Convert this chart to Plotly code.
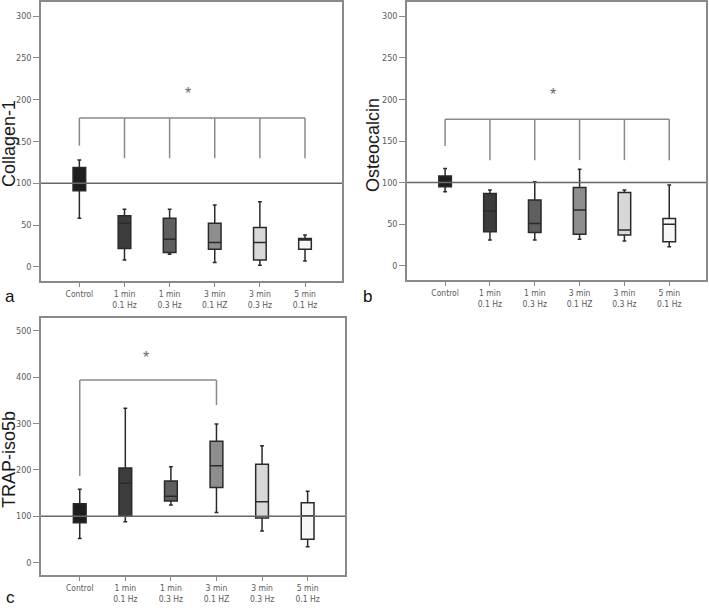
import plotly.graph_objects as go

W, H = 709, 608

categories = ["Control", "1 min<br>0.1 Hz", "1 min<br>0.3 Hz", "3 min<br>0.1 HZ", "3 min<br>0.3 Hz", "5 min<br>0.1 Hz"]
fill_colors = ["#1e1e1e", "#3c3c3c", "#5f5f5f", "#8e8e8e", "#d8d8d8", "#f7f7f7"]

# Panel a: Collagen-1
col_lo = [58, 8, 15, 5, 2, 7]
col_q1 = [91, 22, 17, 21, 8, 21]
col_med = [100, 52, 33, 29, 29, 32]
col_q3 = [119, 61, 58, 52, 47, 34]
col_hi = [128, 69, 69, 74, 78, 38]

# Panel b: Osteocalcin
ost_lo = [89, 31, 31, 32, 30, 23]
ost_q1 = [95, 41, 40, 38, 37, 29]
ost_med = [101, 66, 51, 67, 43, 50]
ost_q3 = [108, 87, 79, 94, 88, 57]
ost_hi = [117, 91, 101, 116, 91, 97]

# Panel c: TRAP-iso5b
trap_lo = [52, 88, 124, 108, 68, 34]
trap_q1 = [86, 100, 133, 162, 96, 50]
trap_med = [100, 171, 143, 209, 131, 101]
trap_q3 = [127, 204, 176, 262, 212, 129]
trap_hi = [158, 333, 207, 299, 252, 154]

# significance brackets (category index, leg bottom), bracket top value, star position
a_legs = [0, 1, 2, 3, 4, 5]
a_leg_bottom = [145, 130, 130, 130, 130, 130]
a_top = 178
a_star = (2.4, 207)

b_legs = [0, 1, 2, 3, 4, 5]
b_leg_bottom = [144, 127, 127, 127, 127, 127]
b_top = 176
b_star = (2.4, 206)

c_legs = [0, 3]
c_leg_bottom = [187, 340]
c_top = 394
c_star = (1.45, 442)

reference_value = 100

panels = [
    dict(name="Collagen-1", lo=col_lo, q1=col_q1, med=col_med, q3=col_q3, hi=col_hi,
         legs=a_legs, bottoms=a_leg_bottom, top=a_top, star=a_star,
         yr=[-17, 317], ticks=[0, 50, 100, 150, 200, 250, 300],
         dx=[41, 342], dy=[2, 281], label="a", label_pos=(10, 296), title_pos=(9, 144)),
    dict(name="Osteocalcin", lo=ost_lo, q1=ost_q1, med=ost_med, q3=ost_q3, hi=ost_hi,
         legs=b_legs, bottoms=b_leg_bottom, top=b_top, star=b_star,
         yr=[-17, 317], ticks=[0, 50, 100, 150, 200, 250, 300],
         dx=[407, 706], dy=[2, 280], label="b", label_pos=(367, 296), title_pos=(373, 145)),
    dict(name="TRAP-iso5b", lo=trap_lo, q1=trap_q1, med=trap_med, q3=trap_q3, hi=trap_hi,
         legs=c_legs, bottoms=c_leg_bottom, top=c_top, star=c_star,
         yr=[-27, 528], ticks=[0, 100, 200, 300, 400, 500],
         dx=[41, 345], dy=[318, 575], label="c", label_pos=(10, 597), title_pos=(9, 460)),
]


def fx(px):
    return px / W


def fy(py):
    return 1 - py / H


fig = go.Figure()
annotations = []
shapes = []
narrow = "DejaVu Sans Condensed, Liberation Sans Narrow, Arial Narrow, Liberation Sans"
xtick_font = dict(family=narrow, size=8.5, color="#5a5a5a")
ytick_font = dict(family=narrow, size=9, color="#5a5a5a")

for i, p in enumerate(panels):
    n = "" if i == 0 else str(i + 1)
    xa, ya = "x" + n, "y" + n
    for k, cat in enumerate(categories):
        fig.add_trace(go.Box(
            x=[k], q1=[p["q1"][k]], median=[p["med"][k]], q3=[p["q3"][k]],
            lowerfence=[p["lo"][k]], upperfence=[p["hi"][k]],
            width=0.28, whiskerwidth=0.3, fillcolor=fill_colors[k],
            line=dict(color="#2a2a2a", width=1.5), boxpoints=False,
            showlegend=False, xaxis=xa, yaxis=ya, hoverinfo="skip"))
    # bracket
    bx, by = [], []
    for leg, bot in zip(p["legs"], p["bottoms"]):
        bx += [leg, leg, None]
        by += [bot, p["top"], None]
    bx += [p["legs"][0], p["legs"][-1]]
    by += [p["top"], p["top"]]
    fig.add_trace(go.Scatter(x=bx, y=by, mode="lines", line=dict(color="#8a8a8a", width=1.5),
                             showlegend=False, xaxis=xa, yaxis=ya, hoverinfo="skip"))
    annotations.append(dict(x=p["star"][0], y=p["star"][1], xref=xa, yref=ya, text="*",
                            showarrow=False, font=dict(family="Liberation Sans", size=16, color="#666")))
    shapes.append(dict(type="line", xref=xa + " domain", yref=ya, x0=0, x1=1,
                       y0=reference_value, y1=reference_value, line=dict(color="#666", width=1.5)))
    dom_x = [fx(p["dx"][0]), fx(p["dx"][1])]
    dom_y = [fy(p["dy"][1]), fy(p["dy"][0])]
    axis_common = dict(showline=True, mirror=True, linecolor="#8a8a8a", linewidth=1.5,
                       showgrid=False, zeroline=False, ticks="outside", tickcolor="#8a8a8a")
    fig.update_layout(**{
        "xaxis" + n: dict(domain=dom_x, range=[-0.85, 5.82], tickvals=list(range(6)),
                          ticktext=categories, ticklen=4, anchor=ya, tickfont=xtick_font,
                          **axis_common),
        "yaxis" + n: dict(domain=dom_y, range=p["yr"], tickvals=p["ticks"], ticklen=6,
                          anchor=xa, tickfont=ytick_font, **axis_common),
    })
    annotations.append(dict(x=fx(p["title_pos"][0]), y=fy(p["title_pos"][1]), xref="paper", yref="paper",
                            text=p["name"], textangle=-90, showarrow=False,
                            font=dict(family="Liberation Sans, Arial", size=18, color="#1a1a1a"),
                            xanchor="center", yanchor="middle"))
    annotations.append(dict(x=fx(p["label_pos"][0]), y=fy(p["label_pos"][1]), xref="paper", yref="paper",
                            text=p["label"], showarrow=False,
                            font=dict(family="Liberation Sans, Arial", size=17, color="#111"),
                            xanchor="center", yanchor="middle"))

fig.update_layout(width=W, height=H, margin=dict(l=0, r=0, t=0, b=0),
                  paper_bgcolor="white", plot_bgcolor="white",
                  annotations=annotations, shapes=shapes, boxmode="overlay")

fig.write_html("out.html", config={"displayModeBar": False},
               post_script="document.body.style.margin='0';document.body.style.overflow='hidden';")
